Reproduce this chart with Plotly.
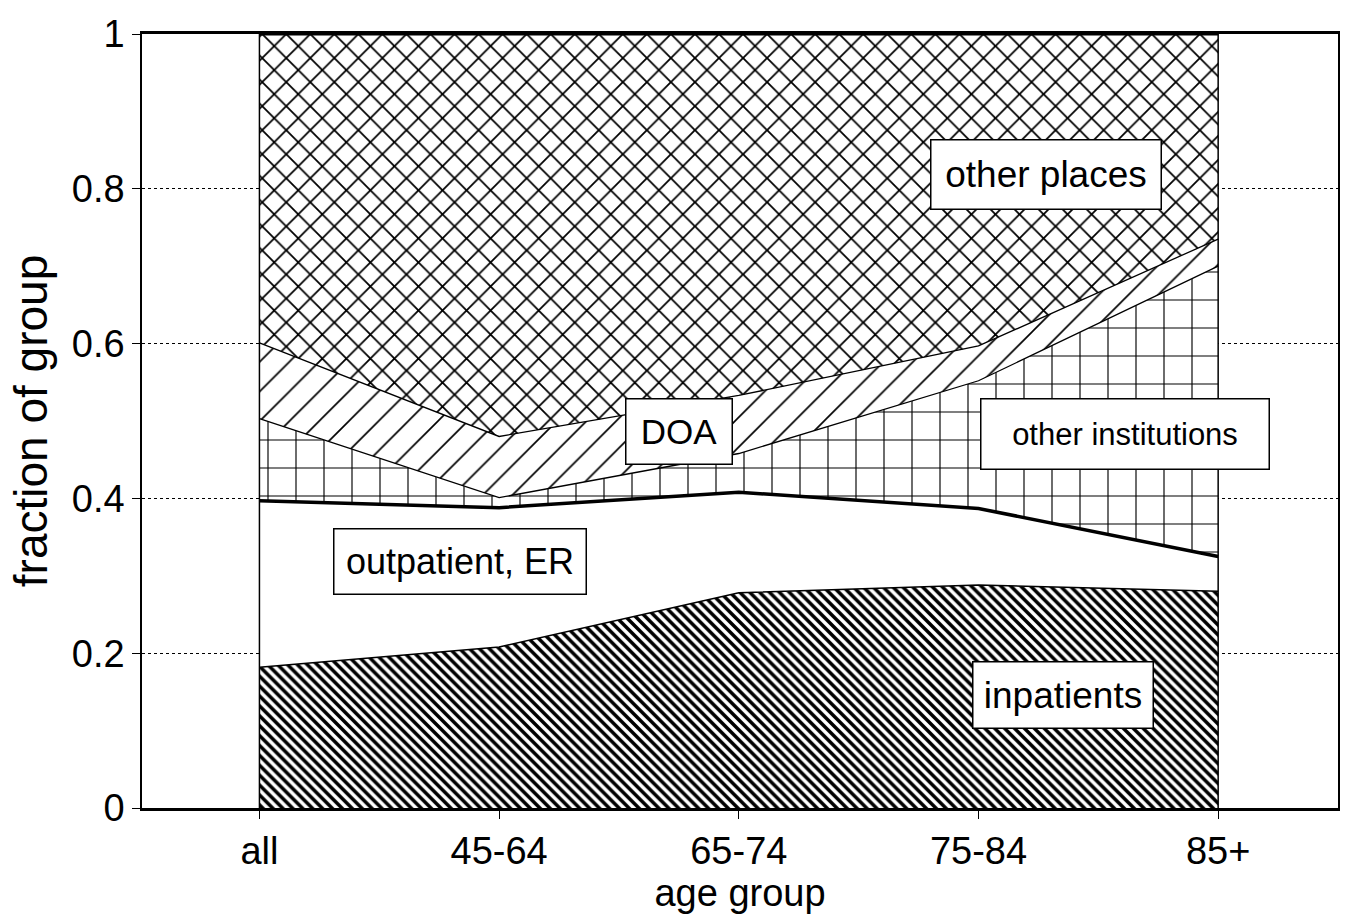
import plotly.graph_objects as go

categories = ["all", "45-64", "65-74", "75-84", "85+"]
inpatients = [0.182, 0.208, 0.278, 0.288, 0.280]
outpatient_er = [0.215, 0.180, 0.130, 0.099, 0.045]
other_institutions = [0.106, 0.013, 0.050, 0.165, 0.375]
doa = [0.098, 0.079, 0.075, 0.045, 0.035]
other_places = [0.399, 0.520, 0.467, 0.403, 0.265]

y_ticks = [0, 0.2, 0.4, 0.6, 0.8, 1]
y_ticktext = ["0", "0.2", "0.4", "0.6", "0.8", "1"]

FONT = "Liberation Sans, Arial, Helvetica, sans-serif"
xs = list(range(len(categories)))

fig = go.Figure()

series = [
    ("inpatients", inpatients, dict(shape="\\", size=7, solidity=0.5), 1.5),
    ("outpatient, ER", outpatient_er, None, 3.5),
    ("other institutions", other_institutions, dict(shape="+", size=28, solidity=0.08), 1.3),
    ("DOA", doa, dict(shape="/", size=21, solidity=0.08), 1.3),
    ("other places", other_places, dict(shape="x", size=17, solidity=0.2), 3),
]

for name, vals, pat, lw in series:
    kw = dict(
        x=xs, y=vals, name=name, mode="lines", stackgroup="one",
        line=dict(color="black", width=lw), fillcolor="white",
        showlegend=False, hoverinfo="skip",
    )
    if pat is not None:
        kw["fillpattern"] = dict(fgcolor="black", bgcolor="white", fillmode="replace", **pat)
    fig.add_trace(go.Scatter(**kw))

# vertical edges of the stacked area
for xv in (xs[0], xs[-1]):
    fig.add_shape(type="line", x0=xv, x1=xv, y0=0, y1=1, xref="x", yref="y",
                  line=dict(color="black", width=1.5), layer="above")

# boxed labels (centers / sizes in reference pixels)
L, R, T, B = 142, 1338, 34, 812
def px2data(px, py):
    xd = -0.49 + (px - L) / (R - L) * (4.5 + 0.49)
    yd = (B - py) / (B - T)
    return xd, yd

labels = [
    ("other places", 1046, 175, 232, 71, 37),
    ("DOA", 679, 434, 108, 67, 35),
    ("other institutions", 1125, 436, 290, 72, 31),
    ("outpatient, ER", 460, 564, 254, 67, 36),
    ("inpatients", 1063, 698, 182, 68, 37),
]
for text, cx, cy, w, h, fs in labels:
    xd, yd = px2data(cx, cy)
    fig.add_annotation(x=xd, y=yd, xref="x", yref="y", text=text, showarrow=False,
                       font=dict(family=FONT, size=fs, color="black"),
                       bgcolor="white", bordercolor="black", borderwidth=1.5,
                       borderpad=0, width=w - 3, height=h - 3,
                       xanchor="center", yanchor="middle", align="center")

fig.update_layout(
    width=1353, height=917,
    margin=dict(l=L, r=1353 - R, t=T, b=917 - B),
    paper_bgcolor="white", plot_bgcolor="white",
    font=dict(family=FONT, color="black"),
    xaxis=dict(
        range=[-0.49, 4.5], tickmode="array", tickvals=xs, ticktext=categories,
        showgrid=False, zeroline=False, showline=True, mirror=True,
        linecolor="black", linewidth=2.5, ticks="outside", ticklen=8,
        tickcolor="black", tickfont=dict(size=38, family=FONT),
        title=dict(text="age group", font=dict(size=38, family=FONT), standoff=6),
    ),
    yaxis=dict(
        range=[0, 1], tickmode="array", tickvals=y_ticks, ticktext=y_ticktext,
        showgrid=True, gridcolor="black", gridwidth=1, griddash="dot",
        zeroline=False, showline=True, mirror=True, linecolor="black", linewidth=1.5,
        ticks="outside", ticklen=8, tickcolor="black",
        tickfont=dict(size=38, family=FONT),
        title=dict(text="fraction of group", font=dict(size=46, family=FONT), standoff=10),
    ),
)

fig.write_html("out.html")
